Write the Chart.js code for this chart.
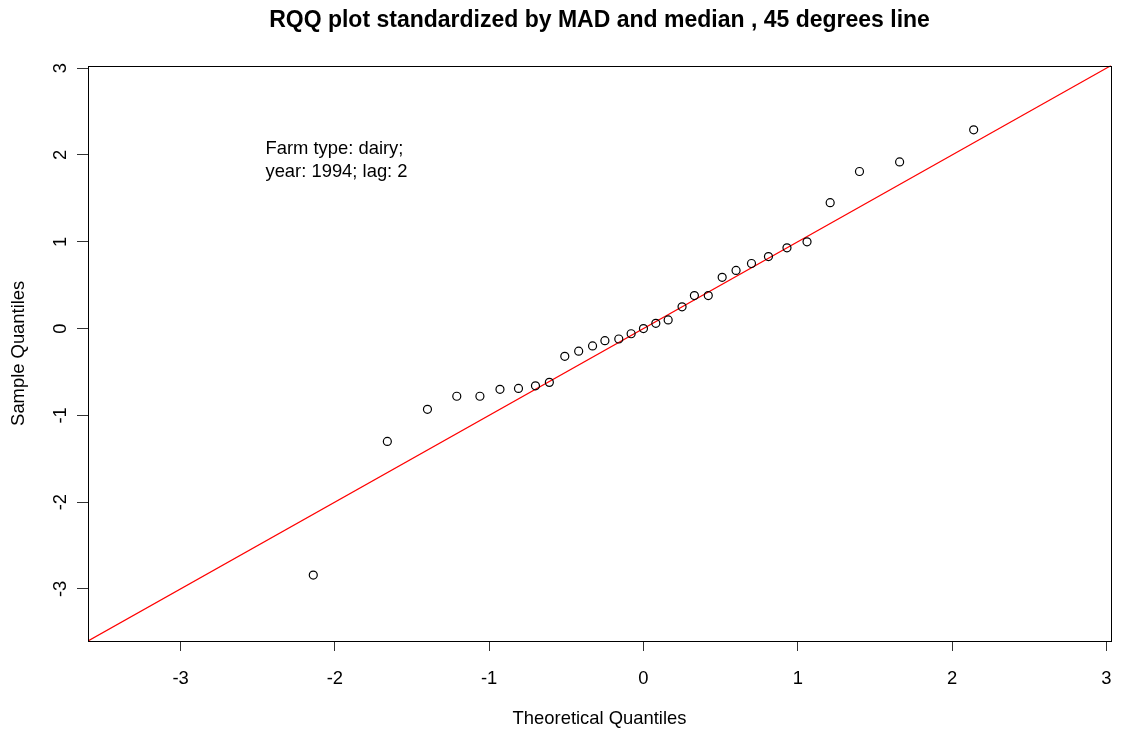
<!DOCTYPE html>
<html>
<head>
<meta charset="utf-8">
<script src="https://cdn.jsdelivr.net/npm/chart.js@4"></script>
<style>
html, body { margin: 0; padding: 0; background: #fff; }
#wrap { width: 1121px; height: 736px; }
</style>
</head>
<body>
<div id="wrap"><canvas id="qq" width="1121" height="736"></canvas></div>
<script>
// theoretical quantiles (x)
const theoretical = [-2.14, -1.66, -1.40, -1.21, -1.06, -0.93, -0.81, -0.70, -0.61, -0.51,
    -0.42, -0.33, -0.25, -0.16, -0.08, 0.00, 0.08, 0.16, 0.25, 0.33,
    0.42, 0.51, 0.60, 0.70, 0.81, 0.93, 1.06, 1.21, 1.40, 1.66, 2.14];
// sample quantiles standardized by MAD and median
const sample = [-2.84, -1.30, -0.93, -0.78, -0.78, -0.70, -0.69, -0.66, -0.62, -0.32,
    -0.26, -0.20, -0.14, -0.12, -0.06, 0.00, 0.06, 0.10, 0.25, 0.38,
    0.38, 0.59, 0.67, 0.75, 0.83, 0.93, 1.00, 1.45, 1.81, 1.92, 2.29];

const xTicks = [-3, -2, -1, 0, 1, 2, 3];
const yTicks = [-3, -2, -1, 0, 1, 2, 3];
const axisMin = -3.6;
const axisMax = 3.03;
const refLine = [-4, 4]; // 45 degrees line, clipped to the plot
const noteLines = ['Farm type: dairy;', 'year: 1994; lag: 2'];
const noteAt = { x: -2.45, y: 1.94 };

const FONT = '"Liberation Sans", Arial, sans-serif';
const TXT = 18.4;

// box round the plot region, like R's box()
const boxPlugin = {
    id: 'box',
    afterDraw(chart) {
        const { ctx, chartArea: a } = chart;
        ctx.save();
        ctx.strokeStyle = '#000';
        ctx.lineWidth = 1;
        ctx.strokeRect(Math.round(a.left) + 0.5, Math.round(a.top) + 0.5,
            Math.round(a.right - a.left), Math.round(a.bottom - a.top));
        ctx.restore();
    }
};

// the text note inside the plot
const notePlugin = {
    id: 'note',
    afterDatasetsDraw(chart) {
        const { ctx, scales } = chart;
        const x = scales.x.getPixelForValue(noteAt.x);
        const y = scales.y.getPixelForValue(noteAt.y);
        ctx.save();
        ctx.font = TXT + 'px ' + FONT;
        ctx.fillStyle = '#000';
        ctx.textAlign = 'left';
        ctx.textBaseline = 'middle';
        ctx.fillText(noteLines[0], x, y - 11.5);
        ctx.fillText(noteLines[1], x, y + 11.5);
        ctx.restore();
    }
};

new Chart(document.getElementById('qq'), {
    type: 'scatter',
    data: {
        datasets: [
            {
                data: theoretical.map((x, i) => ({ x: x, y: sample[i] })),
                pointStyle: 'circle',
                pointRadius: 4,
                pointBorderWidth: 1.2,
                pointBorderColor: '#000',
                pointBackgroundColor: 'rgba(0,0,0,0)'
            },
            {
                data: refLine.map(v => ({ x: v, y: v })),
                showLine: true,
                pointRadius: 0,
                borderColor: '#ff0000',
                borderWidth: 1.2
            }
        ]
    },
    options: {
        responsive: false,
        animation: false,
        devicePixelRatio: 1,
        layout: { padding: { left: 0, right: 10, top: 0, bottom: 0 } },
        plugins: {
            legend: { display: false },
            tooltip: { enabled: false },
            title: {
                display: true,
                text: 'RQQ plot standardized by MAD and median , 45 degrees line',
                color: '#000',
                fullSize: false,
                font: { family: FONT, size: 23, weight: 'bold' },
                padding: { top: 7, bottom: 31 }
            }
        },
        scales: {
            x: {
                type: 'linear',
                min: axisMin,
                max: axisMax,
                afterBuildTicks: axis => { axis.ticks = xTicks.map(v => ({ value: v })); },
                afterFit: axis => { axis.height = 95; axis.paddingLeft = 0; axis.paddingRight = 0; },
                border: { display: false },
                grid: { drawOnChartArea: false, drawTicks: true, tickLength: 10, color: '#333', lineWidth: 1 },
                ticks: {
                    color: '#000',
                    font: { family: FONT, size: TXT },
                    padding: 17,
                    maxRotation: 0,
                    callback: v => String(v)
                },
                title: {
                    display: true,
                    text: 'Theoretical Quantiles',
                    color: '#000',
                    font: { family: FONT, size: TXT },
                    padding: { top: 0, bottom: 6 }
                }
            },
            y: {
                type: 'linear',
                min: axisMin,
                max: axisMax,
                afterBuildTicks: axis => { axis.ticks = yTicks.map(v => ({ value: v })); },
                afterFit: axis => { axis.width = 88; axis.paddingTop = 0; axis.paddingBottom = 0; },
                border: { display: false },
                grid: { drawOnChartArea: false, drawTicks: true, tickLength: 11, color: '#333', lineWidth: 1 },
                ticks: {
                    color: '#000',
                    font: { family: FONT, size: TXT },
                    padding: 8,
                    minRotation: 90,
                    maxRotation: 90,
                    crossAlign: 'center',
                    callback: v => String(v)
                },
                title: {
                    display: true,
                    text: 'Sample Quantiles',
                    color: '#000',
                    font: { family: FONT, size: TXT },
                    padding: { top: 8 }
                }
            }
        }
    },
    plugins: [boxPlugin, notePlugin]
});
</script>
</body>
</html>
